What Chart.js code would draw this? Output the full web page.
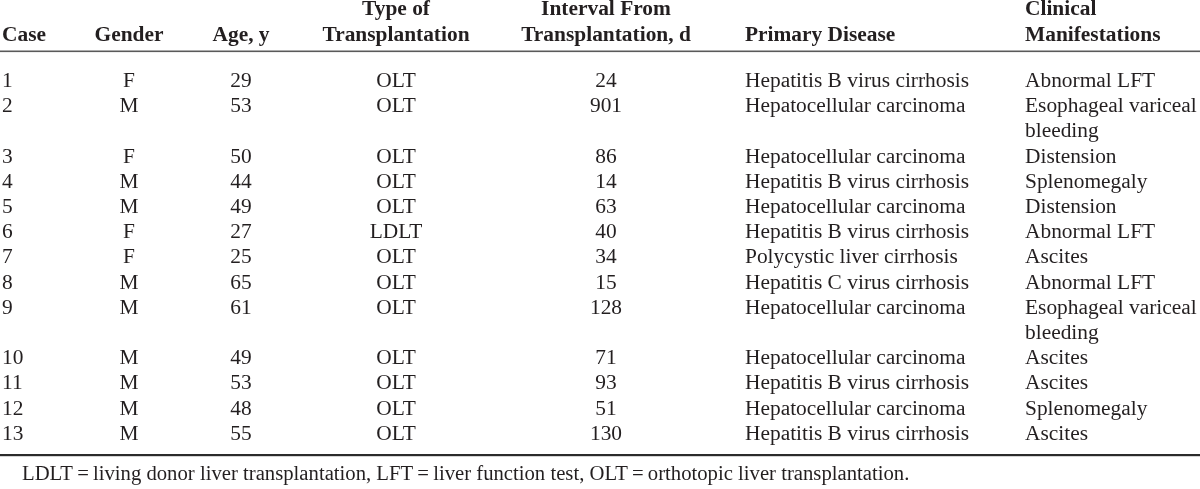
<!DOCTYPE html>
<html>
<head>
<meta charset="utf-8">
<script src="https://cdn.jsdelivr.net/npm/chart.js@4.4.1/dist/chart.umd.min.js"></script>
<style>
html,body{margin:0;padding:0;background:#ffffff;}
#wrap{width:1200px;height:489px;position:relative;overflow:hidden;}
</style>
</head>
<body>
<div id="wrap"><canvas id="c" width="1200" height="489"></canvas></div>
<script>
// ---------------- DATA ----------------
const headerTop = ["", "", "", "Type of", "Interval From", "", "Clinical"];
const headerBottom = ["Case", "Gender", "Age, y", "Transplantation", "Transplantation, d", "Primary Disease", "Manifestations"];
const cases = ["1","2","3","4","5","6","7","8","9","10","11","12","13"];
const genders = ["F","M","F","M","M","F","F","M","M","M","M","M","M"];
const ages = [29,53,50,44,49,27,25,65,61,49,53,48,55];
const transplantTypes = ["OLT","OLT","OLT","OLT","OLT","LDLT","OLT","OLT","OLT","OLT","OLT","OLT","OLT"];
const intervals = [24,901,86,14,63,40,34,15,128,71,93,51,130];
const diseases = ["Hepatitis B virus cirrhosis","Hepatocellular carcinoma","Hepatocellular carcinoma","Hepatitis B virus cirrhosis","Hepatocellular carcinoma","Hepatitis B virus cirrhosis","Polycystic liver cirrhosis","Hepatitis C virus cirrhosis","Hepatocellular carcinoma","Hepatocellular carcinoma","Hepatitis B virus cirrhosis","Hepatocellular carcinoma","Hepatitis B virus cirrhosis"];
const manifestations = ["Abnormal LFT","Esophageal variceal\nbleeding","Distension","Splenomegaly","Distension","Abnormal LFT","Ascites","Abnormal LFT","Esophageal variceal\nbleeding","Ascites","Ascites","Splenomegaly","Ascites"];
const footnote = "LDLT\u2009=\u2009living donor liver transplantation, LFT\u2009=\u2009liver function test, OLT\u2009=\u2009orthotopic liver transplantation.";

// ---------------- LAYOUT (not data) ----------------
const colAnchor = [2, 129, 241, 396, 606, 745, 1025];
const colAlign  = ["left","center","center","center","center","left","left"];
const FONT = 20, SX = 1.07, SX_FOOT = 1.035;
const TEXT = "#231f20";
const B0 = 87, LH = 25.2;               // baseline of first body line, line pitch
const toL = px => (px - B0) / LH;       // pixel -> line units (layout constants only)
const Y_MIN = toL(0), Y_MAX = toL(489);
const HDR1 = toL(15), HDR2 = toL(41);
const RULE_TOP = toL(51.5), RULE_BOTTOM = toL(455), FOOT = toL(479.5);

// ---------------- BUILD DATASETS ----------------
const columns = [cases, genders, ages, transplantTypes, intervals, diseases, manifestations];
const rowLine = [];
let L = 0;
for (let r = 0; r < cases.length; r++) {
  rowLine.push(L);
  let n = 1;
  columns.forEach(c => { n = Math.max(n, String(c[r]).split("\n").length); });
  L += n;
}
const datasets = columns.map((col, ci) => ({
  label: headerBottom[ci],
  data: col.map((v, r) => ({ x: colAnchor[ci], y: rowLine[r], text: String(v), bold: false, align: colAlign[ci], sx: SX })),
  pointRadius: 0, showLine: false
}));
datasets.push({
  label: "header1",
  data: headerTop.map((t, ci) => ({ x: colAnchor[ci], y: HDR1, text: t, bold: true, align: colAlign[ci], sx: SX })),
  pointRadius: 0, showLine: false
});
datasets.push({
  label: "header2",
  data: headerBottom.map((t, ci) => ({ x: colAnchor[ci], y: HDR2, text: t, bold: true, align: colAlign[ci], sx: SX })),
  pointRadius: 0, showLine: false
});
datasets.push({
  label: "footnote",
  data: [{ x: 22, y: FOOT, text: footnote, bold: false, align: "left", sx: SX_FOOT }],
  pointRadius: 0, showLine: false
});

const tablePlugin = {
  id: "tableText",
  afterDatasetsDraw(chart) {
    const ctx = chart.ctx;
    const ys = chart.scales.y;
    const lineStep = Math.abs(ys.getPixelForValue(1) - ys.getPixelForValue(0));
    // rules
    ctx.save();
    ctx.fillStyle = "#5a5a5a";
    ctx.fillRect(0, ys.getPixelForValue(RULE_TOP) - 1, chart.width, 1.6);
    ctx.fillStyle = "#2b2b2b";
    ctx.fillRect(0, ys.getPixelForValue(RULE_BOTTOM) - 1, chart.width, 2.2);
    ctx.restore();
    // text
    chart.data.datasets.forEach((ds, di) => {
      const meta = chart.getDatasetMeta(di);
      meta.data.forEach((el, i) => {
        const d = ds.data[i];
        if (!d.text) return;
        const lines = d.text.split("\n");
        lines.forEach((ln, k) => {
          ctx.save();
          ctx.translate(el.x, el.y + k * lineStep);
          ctx.scale(d.sx, 1);
          ctx.font = (d.bold ? "bold " : "") + FONT + "px 'Liberation Serif', 'Times New Roman', serif";
          ctx.fillStyle = TEXT;
          ctx.textAlign = d.align;
          ctx.textBaseline = "alphabetic";
          ctx.fillText(ln, 0, 0);
          ctx.restore();
        });
      });
    });
  }
};

new Chart(document.getElementById("c"), {
  type: "scatter",
  data: { datasets },
  options: {
    responsive: false,
    animation: false,
    events: [],
    layout: { padding: 0 },
    plugins: { legend: { display: false }, tooltip: { enabled: false }, title: { display: false } },
    scales: {
      x: { type: "linear", min: 0, max: 1200, display: false },
      y: { type: "linear", min: Y_MIN, max: Y_MAX, reverse: true, display: false }
    }
  },
  plugins: [tablePlugin]
});
</script>
</body>
</html>
